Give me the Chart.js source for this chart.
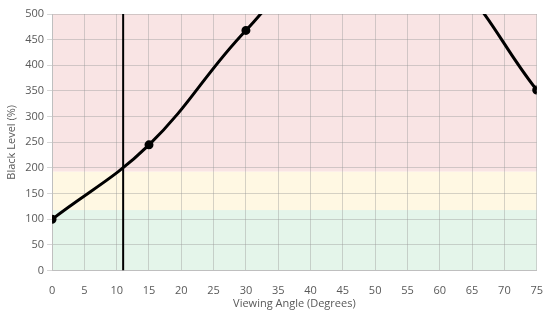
<!DOCTYPE html>
<html>
<head>
<meta charset="utf-8">
<script src="https://cdn.jsdelivr.net/npm/chart.js@4"></script>
<style>
  html, body { margin: 0; padding: 0; background: #fff; }
  #wrap { width: 557px; height: 313px; }
</style>
</head>
<body>
<div id="wrap"><canvas id="chart"></canvas></div>
<script>
// Measured points (viewing angle in degrees, black level in %)
const angles = [0, 15, 30, 45, 60, 75];
const blackLevel = [100, 245, 468, 640, 590, 352];

// Vertical marker line
const markerAngle = 11;

// Background bands (y ranges)
const bandLimits = [0, 118, 193, 500];
const bandColors = ["#e4f5ea", "#fff8e3", "#f9e4e4"];

const xTicks = { min: 0, max: 75, step: 5 };
const yTicks = { min: 0, max: 500, step: 50 };

const bandPlugin = {
    id: "bands",
    beforeDraw(chart) {
        const ctx = chart.ctx;
        const area = chart.chartArea;
        const y = chart.scales.y;
        ctx.save();
        for (let i = 0; i < bandColors.length; i++) {
            const top = y.getPixelForValue(bandLimits[i + 1]);
            const bottom = y.getPixelForValue(bandLimits[i]);
            ctx.fillStyle = bandColors[i];
            ctx.fillRect(area.left, top, area.right - area.left, bottom - top);
        }
        ctx.restore();
    }
};

const ctx = document.getElementById("chart").getContext("2d");
new Chart(ctx, {
    type: "line",
    data: {
        datasets: [
            {
                label: "Black Level",
                data: angles.map((a, i) => ({ x: a, y: blackLevel[i] })),
                borderColor: "#000",
                backgroundColor: "#000",
                borderWidth: 3,
                tension: 0.4,
                pointRadius: 3,
                fill: false
            },
            {
                label: "Marker",
                data: [{ x: markerAngle, y: yTicks.min }, { x: markerAngle, y: yTicks.max }],
                borderColor: "#000",
                borderWidth: 2,
                pointRadius: 0,
                fill: false
            }
        ]
    },
    options: {
        responsive: true,
        maintainAspectRatio: false,
        animation: false,
        layout: { padding: { top: 14, right: 15, left: 5, bottom: 3 } },
        plugins: {
            legend: { display: false },
            tooltip: { enabled: false }
        },
        scales: {
            x: {
                type: "linear",
                min: xTicks.min,
                max: xTicks.max,
                ticks: {
                    stepSize: xTicks.step,
                    color: "#595959",
                    font: { family: "Open Sans", size: 11 },
                    padding: 14
                },
                grid: {
                    color: "rgba(150,150,150,0.4)",
                    tickLength: 0
                },
                border: { color: "#bfbfbf" },
                title: {
                    display: true,
                    text: "Viewing Angle (Degrees)",
                    color: "#595959",
                    font: { family: "Open Sans", size: 11 },
                    padding: { top: -15, bottom: 0 }
                }
            },
            y: {
                min: yTicks.min,
                max: yTicks.max,
                ticks: {
                    stepSize: yTicks.step,
                    color: "#595959",
                    font: { family: "Open Sans", size: 11 },
                    padding: 3
                },
                grid: {
                    color: "rgba(150,150,150,0.4)",
                    tickLength: 5
                },
                border: { color: "#bfbfbf" },
                title: {
                    display: true,
                    text: "Black Level (%)",
                    color: "#595959",
                    font: { family: "Open Sans", size: 11 },
                    padding: { top: 0, bottom: 4 }
                }
            }
        }
    },
    plugins: [bandPlugin]
});
</script>
</body>
</html>
